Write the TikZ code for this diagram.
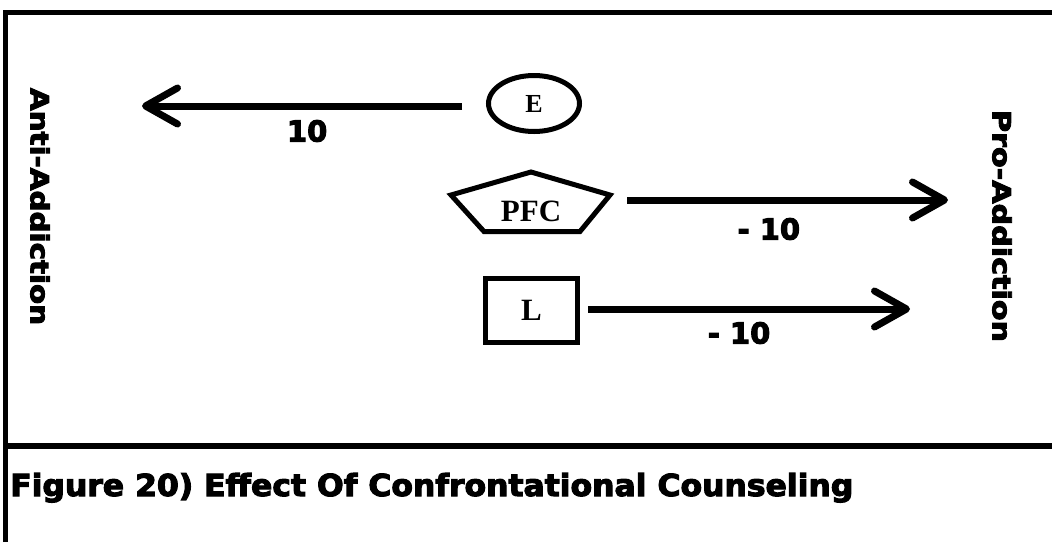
\documentclass[tikz,border=0pt]{standalone}
\usepackage{fontspec}
\setmainfont{Liberation Serif}
\newfontfamily\heavy{DejaVu Sans}[BoldFeatures={FakeBold=3.5}]
\usetikzlibrary{arrows.meta,shapes.geometric}
\begin{document}
\begin{tikzpicture}[x=1pt,y=-1pt,
  frame/.style={line width=5.5pt},
  shapeline/.style={draw,line width=5pt,inner sep=0pt},
  conn/.style={line width=7pt,line cap=butt,-{Straight Barb[length=32pt,width=36pt,round]}},
  lbl/.style={inner sep=0pt,font=\fontsize{29}{29}\selectfont\heavy\bfseries},
  inlbl/.style={font=\bfseries}]
\useasboundingbox (0,0) rectangle (1052,542);
% frame
\draw[frame] (5.5,542) -- (5.5,12.5) -- (1052,12.5);
\draw[frame] (5.5,446) -- (1052,446);
% side labels
\node[rotate=-90,inner sep=0pt] (anti) at (40,206.5) {\resizebox{237pt}{19pt}{\heavy\bfseries Anti-Addiction}};
\node[rotate=-90,inner sep=0pt] (pro) at (1002,226) {\resizebox{232pt}{19pt}{\heavy\bfseries Pro-Addiction}};
% E
\node[shapeline,ellipse,minimum width=91pt,minimum height=56pt,inlbl,font=\fontsize{26}{26}\selectfont\bfseries] (E) at (534,103.5) {E};
\coordinate (Et) at (142,106);
\draw[conn,shorten <=24pt] (E.west |- Et) -- node[lbl,pos=0.52,yshift=-25pt] {10} (Et);
% PFC pentagon
\coordinate (Ptop) at (531,172);
\coordinate (Pl) at (451,195);
\coordinate (Pr) at (610,195);
\coordinate (Pbl) at (484,231.5);
\coordinate (Pbr) at (580,231.5);
\draw[line width=5pt] (Ptop) -- (Pr) -- (Pbr) -- (Pbl) -- (Pl) -- cycle;
\node[inner sep=0pt,font=\fontsize{31}{31}\selectfont\bfseries] (PFC) at (531,211) {PFC};
\coordinate (Pt) at (948,200);
\draw[conn,shorten <=17pt] (Pr |- Pt) -- node[lbl,pos=0.47,yshift=-29pt] {- 10} (Pt);
% L
\node[draw,line width=5pt,minimum width=92pt,minimum height=64pt,inner sep=0pt,font=\fontsize{31}{31}\selectfont\bfseries] (L) at (531.5,310.5) {L};
\coordinate (Lt) at (910,309);
\draw[conn,shorten <=8pt] (L.east |- Lt) -- node[lbl,pos=0.482,yshift=-24pt] {- 10} (Lt);
% caption
\node[anchor=base west,inner sep=0pt] (cap) at (10,496) {\resizebox{843pt}{23pt}{\heavy\bfseries Figure 20) Effect Of Confrontational Counseling}};
\end{tikzpicture}
\end{document}
